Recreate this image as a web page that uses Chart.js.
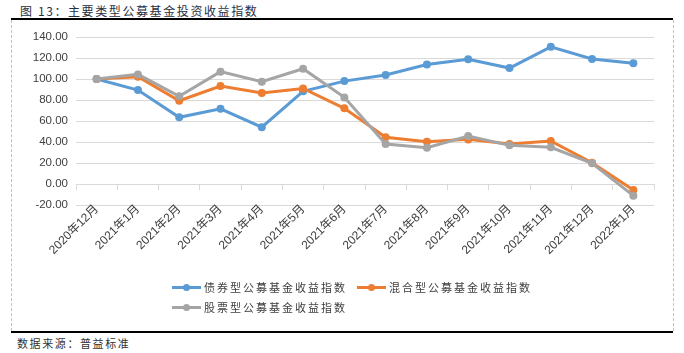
<!DOCTYPE html>
<html>
<head>
<meta charset="utf-8">
<script src="https://cdn.jsdelivr.net/npm/chart.js@4.4.1/dist/chart.umd.min.js"></script>
<style>
  body { margin: 0; width: 684px; height: 353px; background: #fff; position: relative; overflow: hidden;
         font-family: "Noto Sans CJK SC", sans-serif; }
  .title { position: absolute; left: 20px; top: 2px; font-size: 12px; color: #2a2f3f; letter-spacing: 1.6px; }
  .rule { position: absolute; left: 11px; width: 662px; height: 2px; background: #000; }
  .frame { position: absolute; top: 20px; height: 311px; border-left: 1px dashed #c0c0c0; }
  .source { position: absolute; left: 17px; top: 335px; font-size: 11px; color: #333; letter-spacing: 1.6px; }
  #chartBox { position: absolute; left: 12px; top: 20px; }
  #legend { position: absolute; left: 172px; top: 277px; width: 380px; display: flex; flex-wrap: wrap; }
  .item { display: flex; align-items: center; height: 20px; margin-right: 10px; white-space: nowrap; }
  .item.wrap { flex-basis: 100%; }
  .mark { position: relative; width: 29px; height: 14px; margin-right: 3px; }
  .mark .ln { position: absolute; left: 0; right: 0; top: 5.5px; height: 3px; }
  .mark .dot { position: absolute; left: 11px; top: 3.5px; width: 7px; height: 7px; border-radius: 50%; }
  .item span { font-size: 11px; color: #404040; letter-spacing: 2px; }
</style>
</head>
<body>
<div class="title">图 13：主要类型公募基金投资收益指数</div>
<div class="rule" style="top:18px"></div>
<div class="frame" style="left:11px"></div>
<div class="frame" style="left:673px"></div>
<div id="chartBox"><canvas id="fundChart" width="660" height="310"></canvas></div>
<div id="legend"></div>
<div class="rule" style="top:331px"></div>
<div class="source">数据来源：普益标准</div>

<script>
const months = ['2020年12月', '2021年1月', '2021年2月', '2021年3月', '2021年4月', '2021年5月', '2021年6月',
  '2021年7月', '2021年8月', '2021年9月', '2021年10月', '2021年11月', '2021年12月', '2022年1月'];
const seriesNames = ['债券型公募基金收益指数', '混合型公募基金收益指数', '股票型公募基金收益指数'];
const bondIndex = [100, 89.5, 63.5, 71.6, 54.1, 88.3, 98, 103.8, 113.8, 118.8, 110.4, 130.6, 119, 115];
const mixedIndex = [100, 102.2, 79.3, 93.3, 86.7, 91, 72.1, 44.5, 40.3, 42.5, 38, 41, 20.3, -5.7];
const stockIndex = [100, 104.4, 83.5, 107, 97.5, 109.8, 82.5, 38, 34.6, 45.7, 36.8, 35, 19.7, -11.1];
const yMin = -20, yMax = 140, yStep = 20;

const colors = ['#5b9bd5', '#ed7d31', '#a5a5a5'];
const tickFont = { family: '"Liberation Sans", "Noto Sans CJK SC"', size: 11.5 };
const xFont = { family: '"Liberation Sans", "Noto Sans CJK SC"', size: 12 };

const makeSet = (label, data, color, order) => ({
  label: label,
  data: data,
  borderColor: color,
  backgroundColor: color,
  borderWidth: 3,
  pointRadius: 4,
  pointBorderWidth: 0,
  pointBackgroundColor: color,
  tension: 0,
  order: order // grey drawn on top, like the original
});

const chart = new Chart(document.getElementById('fundChart'), {
  type: 'line',
  data: {
    labels: months,
    datasets: [
      makeSet(seriesNames[0], bondIndex, colors[0], 2),
      makeSet(seriesNames[1], mixedIndex, colors[1], 1),
      makeSet(seriesNames[2], stockIndex, colors[2], 0)
    ]
  },
  options: {
    responsive: false,
    animation: false,
    layout: { padding: { left: 12, right: 18, top: 17, bottom: 125 } },
    plugins: { legend: { display: false }, tooltip: { enabled: false } },
    scales: {
      // category labels hang from the bottom gridline
      x: {
        position: { y: yMin },
        offset: true,
        grid: { display: false, drawTicks: false },
        border: { display: false },
        ticks: { autoSkip: false, maxRotation: 45, minRotation: 45, padding: -3, color: '#404040', font: xFont }
      },
      // the zero line with its tick marks
      x0: {
        type: 'category',
        axis: 'x',
        labels: months,
        position: { y: 0 },
        offset: true,
        grid: { drawOnChartArea: false, offset: true, tickLength: 5, color: '#d9d9d9' },
        border: { display: true, color: '#d9d9d9', width: 1 },
        ticks: { display: false }
      },
      y: {
        min: yMin,
        max: yMax,
        ticks: { stepSize: yStep, padding: 8, color: '#404040', font: tickFont,
                 callback: (v) => v.toFixed(2) },
        grid: { color: '#d9d9d9', drawTicks: false },
        border: { display: false },
        afterFit: (s) => { s.width = 52; }
      }
    }
  }
});

// html legend in the original's order, third item on its own row
const legendBox = document.getElementById('legend');
chart.data.datasets.forEach((ds, i) => {
  const item = document.createElement('div');
  item.className = i === 2 ? 'item wrap' : 'item';
  item.innerHTML = '<div class="mark"><div class="ln" style="background:' + ds.borderColor +
    '"></div><div class="dot" style="background:' + ds.borderColor + '"></div></div><span>' + ds.label + '</span>';
  legendBox.appendChild(item);
});
</script>
</body>
</html>
